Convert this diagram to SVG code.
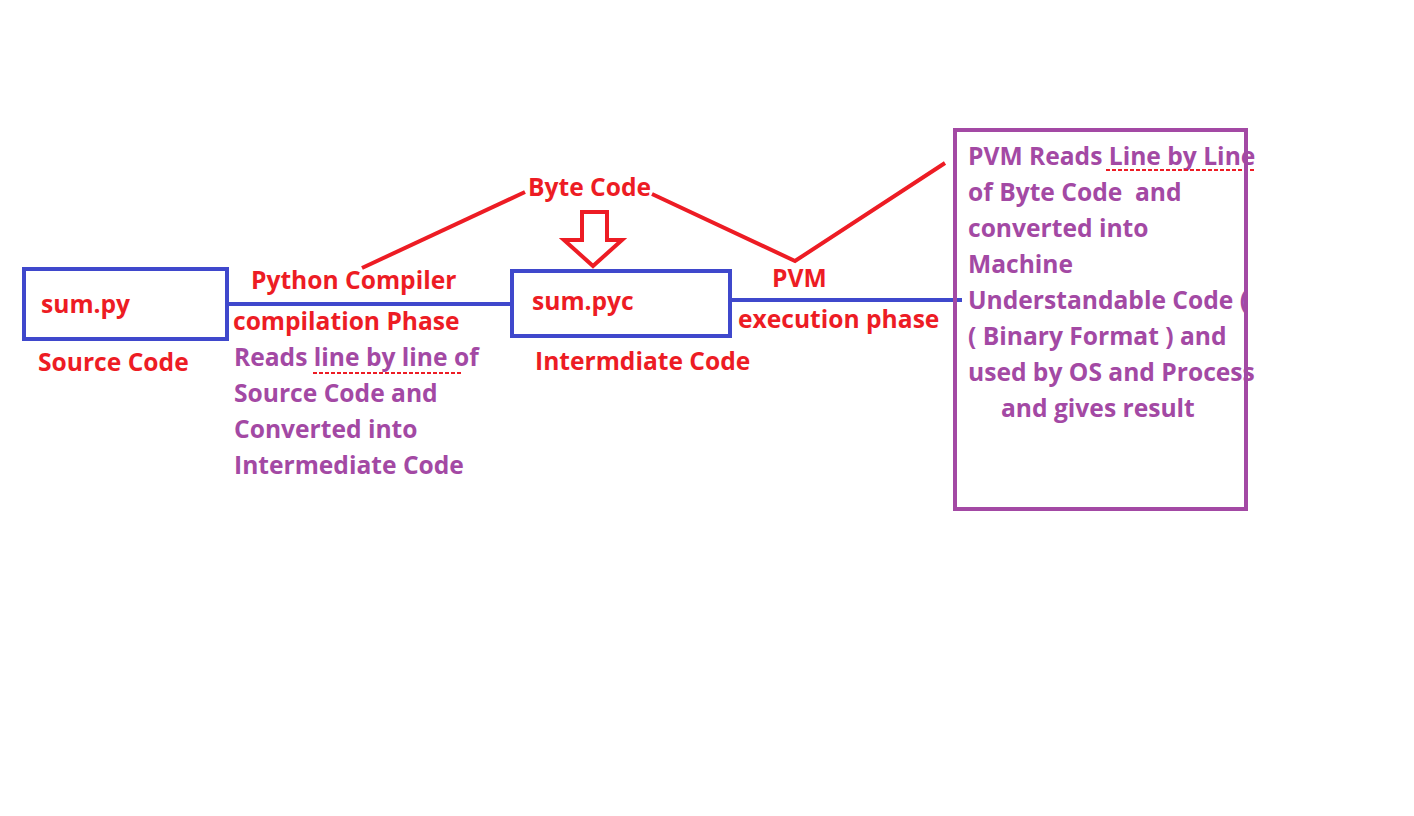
<svg xmlns="http://www.w3.org/2000/svg" width="1414" height="816" viewBox="0 0 1414 816">
<style>
text{font-family:"Open Sans","Liberation Sans",sans-serif;font-weight:700;font-size:24.6px}
.r{fill:#ed1c24}
.p{fill:#a349a4}
.box{fill:none;stroke:#3f48cc;stroke-width:4}
.pbox{fill:none;stroke:#a349a4;stroke-width:4}
.bl{stroke:#3f48cc;stroke-width:4;fill:none}
.rl{stroke:#ed1c24;stroke-width:4;fill:none;stroke-linejoin:miter}
.dash{stroke:#ed1c24;stroke-width:2;stroke-dasharray:4 2;fill:none}
</style>
<rect width="1414" height="816" fill="#fff"/>
<g id="connectors">
<line class="bl" x1="227" y1="304" x2="512" y2="304"/>
<line class="bl" x1="730" y1="300" x2="962" y2="300"/>
<polyline class="rl" points="362,268 525,192"/>
<polyline class="rl" points="652,194 795,261 945,163"/>
<polygon class="rl" points="582,212 607,212 607,240 622,240 593,266 564,240 582,240"/>
</g>
<g id="sumpy">
<rect class="box" x="24" y="269" width="203" height="70"/>
<text class="r" x="41" y="313">sum.py</text>
<text class="r" x="38" y="371">Source Code</text>
</g>
<g id="compiler">
<text class="r" x="251" y="289">Python Compiler</text>
<text class="r" x="233" y="330">compilation Phase</text>
<text class="p" x="234" y="366">Reads line by line of</text>
<text class="p" x="234" y="402">Source Code and</text>
<text class="p" x="234" y="438">Converted into</text>
<text class="p" x="234" y="474">Intermediate Code</text>
<line class="dash" x1="313" y1="373" x2="462" y2="373"/>
</g>
<g id="bytecode">
<text class="r" x="528" y="196">Byte Code</text>
</g>
<g id="sumpyc">
<rect class="box" x="512" y="271" width="218" height="65"/>
<text class="r" x="532" y="310">sum.pyc</text>
<text class="r" x="535" y="370">Intermdiate Code</text>
</g>
<g id="pvm">
<text class="r" x="772" y="287">PVM</text>
<text class="r" x="738" y="328">execution phase</text>
</g>
<g id="pvmbox">
<text class="p" x="968" y="165">PVM Reads Line by Line</text>
<text class="p" x="968" y="201" xml:space="preserve">of Byte Code  and</text>
<text class="p" x="968" y="237">converted into</text>
<text class="p" x="968" y="273">Machine</text>
<text class="p" x="968" y="309">Understandable Code (</text>
<text class="p" x="968" y="345">( Binary Format ) and</text>
<text class="p" x="968" y="381">used by OS and Process</text>
<text class="p" x="1001" y="417">and gives result</text>
<line class="dash" x1="1106" y1="170" x2="1256" y2="170"/>
<rect class="pbox" x="955" y="130" width="291" height="379"/>
</g>
</svg>
